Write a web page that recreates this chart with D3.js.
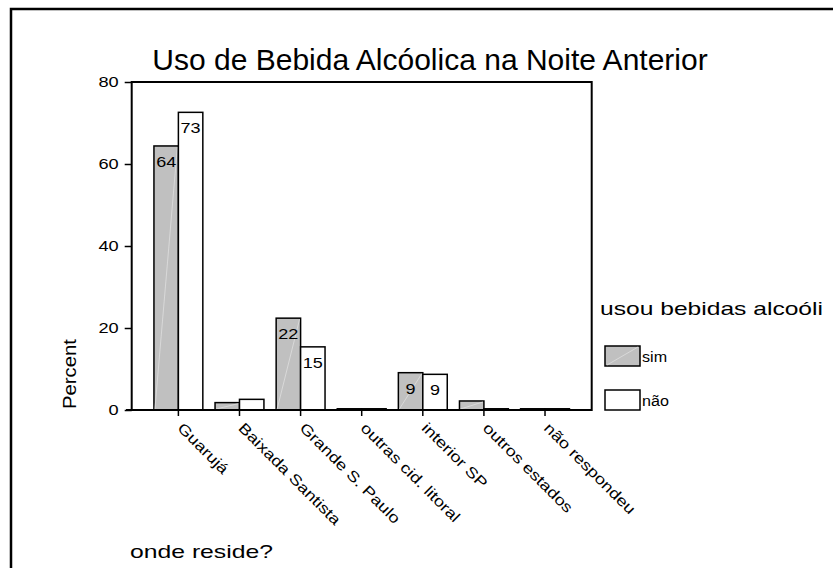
<!DOCTYPE html>
<html>
<head>
<meta charset="utf-8">
<script src="https://cdn.jsdelivr.net/npm/d3@7"></script>
<style>
  body { margin: 0; background: #fff; }
  text { font-family: "Liberation Sans", Arial, sans-serif; fill: #000; }
</style>
</head>
<body>
<script>
// dados
var categorias = ["Guarujá", "Baixada Santista", "Grande S. Paulo", "outras cid. litoral", "interior SP", "outros estados", "não respondeu"];
var series = ["sim", "não"];
var valoresSim = [64.4, 1.8, 22.4, 0.3, 9.1, 2.2, 0.3];
var valoresNao = [72.6, 2.6, 15.4, 0.3, 8.7, 0.3, 0.3];
var yTicks = [0, 20, 40, 60, 80];
var cores = { "sim": "#c0c0c0", "não": "#ffffff" };

d3.select(window).on("load", init);

function init() {

    var w = 833, h = 568;
    var pLeft = 131.7, pRight = 591.7, pTop = 82, pBottom = 410;

    var svg = d3.select("body").append("svg")
        .attr("width", w)
        .attr("height", h);

    svg.append("rect").attr("width", w).attr("height", h).attr("fill", "#fff");

    // moldura externa (so topo e esquerda aparecem)
    svg.append("path")
        .attr("d", "M11," + h + "V9H" + w)
        .attr("fill", "none")
        .attr("stroke", "#000")
        .attr("stroke-width", 2.5);

    // estica o texto na horizontal, como no original
    function estica(sel, k) {
        sel.each(function() {
            var l = this.getComputedTextLength();
            this.setAttribute("textLength", l * k);
            this.setAttribute("lengthAdjust", "spacingAndGlyphs");
        });
    }

    var dados = categorias.map(function(c, i) {
        return { cat: c, sim: valoresSim[i], "não": valoresNao[i] };
    });

    var x0 = d3.scaleBand()
        .domain(categorias)
        .range([pLeft, pRight])
        .paddingInner(0.2)
        .paddingOuter(0.364);

    var x1 = d3.scaleBand()
        .domain(series)
        .range([0, x0.bandwidth()]);

    var y = d3.scaleLinear()
        .domain([0, 80])
        .range([pBottom, pTop]);

    // barras
    var grupos = svg.selectAll("g.grupo")
        .data(dados)
        .enter()
        .append("g")
        .attr("class", "grupo")
        .attr("transform", function(d) { return "translate(" + x0(d.cat) + ",0)"; });

    var barras = grupos.selectAll("g.barra")
        .data(function(d) { return series.map(function(s) { return { s: s, v: d[s] }; }); })
        .enter()
        .append("g")
        .attr("class", "barra");

    barras.append("rect")
        .attr("x", function(d) { return x1(d.s); })
        .attr("y", function(d) { return y(d.v); })
        .attr("width", x1.bandwidth())
        .attr("height", function(d) { return y(0) - y(d.v); })
        .attr("fill", function(d) { return cores[d.s]; })
        .attr("stroke", "#000")
        .attr("stroke-width", 1.5);

    // linha diagonal clarinha nas barras cinza
    barras.filter(function(d) { return d.s == "sim" && d.v > 1; })
        .append("line")
        .attr("x1", function(d) { return x1(d.s) + 1; })
        .attr("y1", y(0) - 1)
        .attr("x2", function(d) { return x1(d.s) + x1.bandwidth() - 1; })
        .attr("y2", function(d) { return y(d.v) + 1; })
        .attr("stroke", "#dedede")
        .attr("stroke-width", 0.8);

    barras.filter(function(d) { return d.v >= 5; })
        .append("text")
        .attr("x", function(d) { return x1(d.s) + x1.bandwidth() / 2; })
        .attr("y", function(d) { return y(d.v) + 21; })
        .attr("text-anchor", "middle")
        .attr("font-size", 15)
        .text(function(d) { return Math.round(d.v); })
        .call(estica, 1.2);

    // moldura do grafico
    svg.append("path")
        .attr("d", "M126," + pBottom + "H" + pRight + "V" + pTop + "H" + pLeft + "V" + pBottom)
        .attr("fill", "none")
        .attr("stroke", "#000")
        .attr("stroke-width", 2);

    // eixo y
    var yAxis = d3.axisLeft(y)
        .tickValues(yTicks)
        .tickSize(7)
        .tickPadding(6);

    var gy = svg.append("g")
        .attr("transform", "translate(" + pLeft + ",0)")
        .call(yAxis);
    gy.select(".domain").remove();
    gy.selectAll("line").attr("stroke", "#000").attr("stroke-width", 1.5);
    gy.selectAll("text")
        .attr("font-size", 14)
        .attr("font-family", "Liberation Sans, Arial, sans-serif")
        .call(estica, 1.3);

    // eixo x
    var xAxis = d3.axisBottom(x0)
        .tickSize(6)
        .tickFormat("");

    var gx = svg.append("g")
        .attr("transform", "translate(0," + pBottom + ")")
        .call(xAxis);
    gx.select(".domain").remove();
    gx.selectAll("line").attr("stroke", "#000").attr("stroke-width", 1.5);

    svg.selectAll("text.rotulo")
        .data(categorias)
        .enter()
        .append("text")
        .attr("class", "rotulo")
        .attr("transform", function(d) {
            return "translate(" + (x0(d) + x0.bandwidth() / 2 + 6) + "," + (pBottom + 11) + ") rotate(45)";
        })
        .attr("dy", "0.75em")
        .attr("font-size", 15)
        .text(function(d) { return d; })
        .call(estica, 1.22);

    // titulo
    svg.append("text")
        .attr("x", 430)
        .attr("y", 70)
        .attr("text-anchor", "middle")
        .attr("font-size", 30)
        .text("Uso de Bebida Alcóolica na Noite Anterior");

    // rotulo y
    svg.append("text")
        .attr("transform", "translate(76,374) rotate(-90)")
        .attr("text-anchor", "middle")
        .attr("font-size", 18)
        .attr("textLength", 70)
        .attr("lengthAdjust", "spacingAndGlyphs")
        .text("Percent");

    // rotulo x
    svg.append("text")
        .attr("x", 130)
        .attr("y", 558)
        .attr("font-size", 19)
        .attr("textLength", 143)
        .attr("lengthAdjust", "spacingAndGlyphs")
        .text("onde reside?");

    // legenda
    svg.append("text")
        .attr("x", 600)
        .attr("y", 315)
        .attr("font-size", 19)
        .attr("textLength", 223)
        .attr("lengthAdjust", "spacingAndGlyphs")
        .text("usou bebidas alcoóli");

    var legY = d3.scalePoint().domain(series).range([346, 390]);

    var leg = svg.selectAll("g.leg")
        .data(series)
        .enter()
        .append("g")
        .attr("class", "leg")
        .attr("transform", function(d) { return "translate(605," + legY(d) + ")"; });

    leg.append("rect")
        .attr("width", 35)
        .attr("height", 20)
        .attr("fill", function(d) { return cores[d]; })
        .attr("stroke", "#000")
        .attr("stroke-width", 1.5);

    leg.filter(function(d) { return d == "sim"; })
        .append("line")
        .attr("x1", 2).attr("y1", 19)
        .attr("x2", 33).attr("y2", 1)
        .attr("stroke", "#dedede")
        .attr("stroke-width", 0.8);

    leg.append("text")
        .attr("x", 37)
        .attr("y", 16)
        .attr("font-size", 14)
        .text(function(d) { return d; })
        .call(estica, 1.15);
}
</script>
</body>
</html>
